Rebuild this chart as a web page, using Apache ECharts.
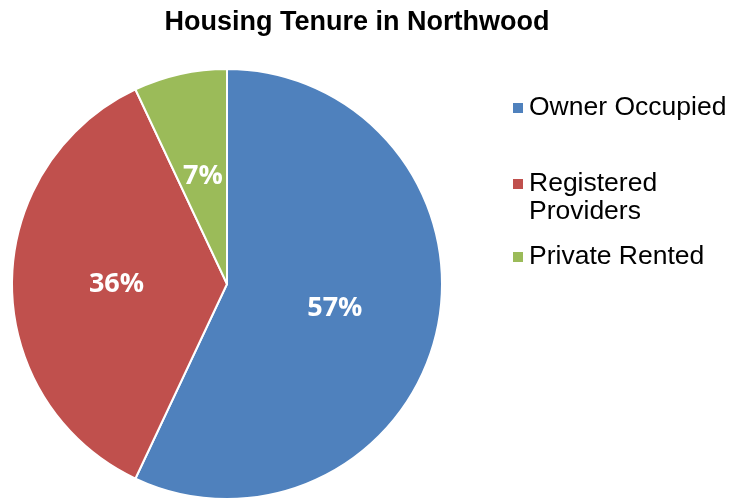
<!DOCTYPE html>
<html>
<head>
<meta charset="utf-8">
<script src="https://cdn.jsdelivr.net/npm/echarts@6/dist/echarts.min.js"></script>
<style>html,body{margin:0;padding:0;background:#fff}#c{width:729px;height:501px}</style>
</head>
<body>
<div id="c"></div>
<script>
const categories = ['Owner Occupied', 'Registered Providers', 'Private Rented'];
const legendLabels = ['Owner Occupied', '\nRegistered\nProviders', 'Private Rented'];
const values = [57, 36, 7];
const colors = ['#4F81BD', '#C0504D', '#9BBB59'];
const titleText = 'Housing Tenure in Northwood';

const chart = echarts.init(document.getElementById('c'));
const legendTops = [94, 142, 243];
const legends = categories.map((name, i) => ({
  data: [name],
  orient: 'vertical',
  left: 511,
  top: legendTops[i],
  padding: 0,
  icon: 'rect',
  itemWidth: 12,
  itemHeight: 12,
  selectedMode: false,
  formatter: () => legendLabels[i],
  textStyle: {
    fontFamily: 'Liberation Sans, Arial, sans-serif',
    fontSize: 26.5,
    lineHeight: 28,
    color: '#000'
  }
}));
chart.setOption({
  animation: false,
  title: {
    text: titleText,
    left: 352,
    textAlign: 'center',
    top: 4,
    textStyle: {fontFamily: 'Liberation Sans, Arial, sans-serif', fontSize: 27, fontWeight: 'bold', color: '#000'}
  },
  legend: legends,
  series: [{
    type: 'pie',
    center: [227, 284],
    radius: 215,
    startAngle: 90,
    clockwise: true,
    data: categories.map((n, i) => ({name: n, value: values[i], itemStyle: {color: colors[i]}})),
    itemStyle: {borderColor: '#fff', borderWidth: 2},
    label: {
      position: 'inside',
      formatter: '{c}%',
      color: '#fff',
      fontFamily: 'Open Sans, Noto Sans, sans-serif',
      fontWeight: 'bold',
      fontSize: 27
    },
    labelLine: {show: false},
    emphasis: {disabled: true}
  }]
});
</script>
</body>
</html>
